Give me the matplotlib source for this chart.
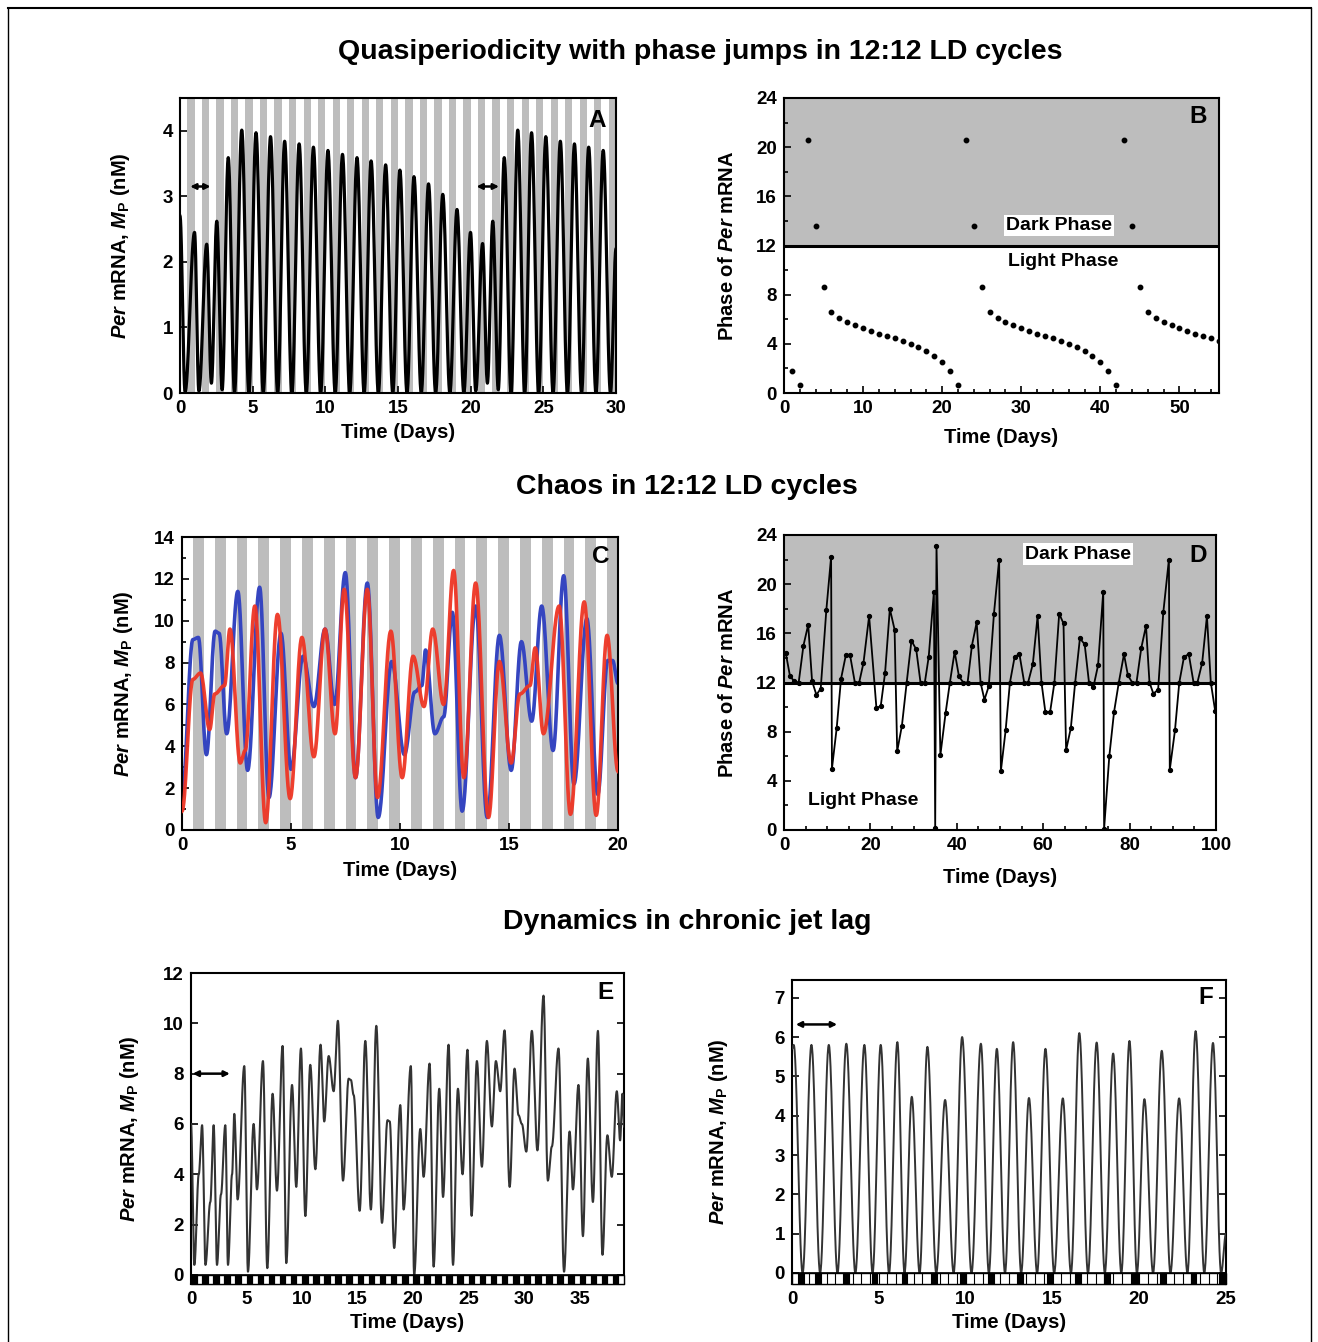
import numpy as np
import matplotlib
matplotlib.use("Agg")
import matplotlib.pyplot as plt
from matplotlib.patches import Rectangle
from matplotlib.lines import Line2D
from matplotlib.ticker import MultipleLocator

plt.rcParams['font.family'] = ['Liberation Sans', 'DejaVu Sans']
plt.rcParams['font.weight'] = 'bold'
plt.rcParams['axes.labelweight'] = 'bold'
plt.rcParams['mathtext.fontset'] = 'custom'
plt.rcParams['mathtext.it'] = 'Liberation Sans:italic:bold'
plt.rcParams['mathtext.rm'] = 'Liberation Sans:bold'
plt.rcParams['mathtext.bf'] = 'Liberation Sans:bold'

# ---------------- data ----------------
# Panel A: extrema of Per mRNA (time in days, nM)
A_t = [0.0, 0.35, 1.0, 1.3, 1.84, 2.16, 2.53, 2.9, 3.32, 3.75, 4.25, 4.74, 5.23, 5.73, 6.23,
       6.72, 7.2, 7.7, 8.2, 8.69, 9.18, 9.68, 10.18, 10.68, 11.18, 11.68, 12.18, 12.67,
       13.15, 13.65, 14.15, 14.64, 15.13, 15.62, 16.1, 16.6, 17.1, 17.59, 18.08, 18.57,
       19.06, 19.53, 19.99, 20.35, 20.82, 21.15, 21.52, 21.9, 22.31, 22.78, 23.24, 23.72,
       24.19, 24.68, 25.17, 25.67, 26.17, 26.66, 27.14, 27.63, 28.12, 28.62, 29.12, 29.62, 30.0]
A_y = [2.7, 0.02, 2.45, 0.03, 2.27, 0.15, 2.62, 0.05, 3.59, 0.0, 4.01, 0.0, 3.97, 0.0, 3.91,
       0.0, 3.84, 0.0, 3.80, 0.0, 3.75, 0.0, 3.70, 0.0, 3.64, 0.0, 3.59, 0.0,
       3.54, 0.0, 3.48, 0.0, 3.40, 0.0, 3.30, 0.0, 3.19, 0.0, 3.03, 0.0,
       2.80, 0.0, 2.45, 0.03, 2.28, 0.15, 2.62, 0.05, 3.59, 0.0, 4.01, 0.0,
       3.97, 0.0, 3.91, 0.0, 3.84, 0.0, 3.80, 0.0, 3.75, 0.0, 3.70, 0.0, 2.2]

# Panel B: daily phase of Per mRNA peak (h)
B_day = list(range(1, 56))
B_phase = [1.8, 0.68, 20.6, 13.6, 8.63, 6.57, 6.11, 5.8, 5.5, 5.25, 5.06, 4.84, 4.65, 4.46, 4.25,
           3.98, 3.73, 3.41, 3.03, 2.49, 1.81, 0.68, 20.6, 13.6, 8.63, 6.57, 6.11, 5.8, 5.5, 5.25,
           5.06, 4.84, 4.65, 4.46, 4.25, 3.98, 3.73, 3.41, 3.03, 2.49, 1.81, 0.68, 20.6, 13.6, 8.63,
           6.57, 6.11, 5.8, 5.5, 5.25, 5.06, 4.84, 4.65, 4.46, 4.25]

# Panel C: extrema of two chaotic trajectories
C_blue_t = [0.0, 0.5, 0.75, 1.12, 1.52, 1.7, 2.05, 2.56, 3.01, 3.56, 3.99, 4.54, 5.0, 5.55, 6.05,
            6.56, 7.0, 7.49, 7.96, 8.5, 9.0, 9.62, 10.2, 10.68, 11.0, 11.17, 11.6, 12.0, 12.4,
            12.85, 13.47, 14.0, 14.56, 15.1, 15.57, 16.04, 16.5, 17.02, 17.51, 17.98, 18.57,
            19.07, 19.53, 19.75, 20.0]
C_blue_y = [1.6, 9.1, 9.2, 3.6, 9.5, 9.4, 4.6, 11.4, 2.85, 11.6, 1.55, 9.4, 2.9, 8.3, 5.9,
            9.6, 6.0, 12.3, 2.5, 11.8, 0.6, 8.05, 3.6, 6.6, 6.9, 8.6, 4.6, 5.4, 10.4,
            0.9, 10.7, 0.6, 9.3, 2.85, 9.0, 5.2, 10.7, 3.8, 12.15, 2.2, 10.1,
            1.7, 8.1, 8.1, 7.0]
C_red_t = [0.0, 0.5, 0.85, 1.27, 1.5, 1.95, 2.2, 2.67, 2.9, 3.34, 3.84, 4.38, 4.96, 5.5, 6.05,
           6.56, 7.02, 7.44, 7.96, 8.5, 8.97, 9.58, 10.1, 10.6, 11.1, 11.5, 12.0, 12.46, 12.93,
           13.47, 14.06, 14.56, 15.1, 15.5, 15.96, 16.2, 16.58, 17.3, 17.82, 18.45, 19.0, 19.5, 20.0]
C_red_y = [0.9, 7.2, 7.5, 4.8, 6.5, 6.9, 9.6, 3.2, 3.8, 10.7, 0.35, 10.3, 1.5, 9.2, 3.5,
           9.6, 4.6, 11.5, 2.5, 11.5, 1.55, 9.5, 2.5, 8.3, 5.9, 9.6, 6.0, 12.4, 2.5,
           11.8, 0.6, 8.05, 3.2, 6.5, 6.9, 8.7, 4.6, 10.7, 0.75, 10.9, 0.7, 9.3, 2.8]

# Panel D: phase of Per mRNA peak (h) vs days
D_day = [0.4, 1.4, 2.4, 3.4, 4.5, 5.6, 6.5, 7.5, 8.5, 9.8, 10.9, 11.1, 12.2, 13.2, 14.3, 15.3,
         16.4, 17.4, 18.4, 19.7, 21.4, 22.4, 23.4, 24.5, 25.6, 26.2, 27.3, 28.4, 29.5, 30.6,
         31.6, 32.6, 33.5, 34.7, 35.0, 35.3, 36.2, 37.4, 38.4, 39.5, 40.5, 41.5, 42.5, 43.5,
         44.6, 45.5, 46.4, 47.4, 48.6, 49.8, 50.2, 51.3, 52.3, 53.4, 54.5, 55.6, 56.5, 57.6,
         58.7, 59.6, 60.5, 61.6, 62.6, 63.7, 64.7, 65.3, 66.4, 67.4, 68.5, 69.6, 70.6, 71.6,
         72.7, 73.9, 74.1, 75.3, 76.4, 77.5, 78.7, 79.6, 80.6, 81.6, 82.7, 83.8, 84.6, 85.5,
         86.6, 87.8, 89.1, 89.3, 90.5, 91.5, 92.6, 93.7, 94.8, 95.7, 96.8, 97.9, 98.8, 99.8]
D_phase = [14.4, 12.5, 12.1, 12.0, 15.0, 16.7, 12.1, 11.0, 11.5, 17.9, 22.2, 5.0, 8.3, 12.3, 14.2, 14.2,
           12.0, 12.0, 13.6, 17.4, 9.9, 10.1, 12.8, 18.0, 16.3, 6.4, 8.5, 12.0, 15.4, 14.7,
           12.0, 12.0, 14.1, 19.4, 0.2, 23.1, 6.1, 9.5, 12.0, 14.5, 12.5, 12.0, 12.0, 15.0,
           16.9, 12.0, 10.6, 11.7, 17.6, 22.0, 4.8, 8.1, 12.0, 14.1, 14.3, 12.0, 12.0, 13.5,
           17.4, 12.0, 9.6, 9.6, 12.0, 17.6, 16.8, 6.5, 8.3, 12.0, 15.6, 15.1, 12.0, 11.6,
           13.4, 19.4, 0.1, 6.0, 9.6, 12.0, 14.3, 12.6, 12.0, 12.0, 14.8, 16.6, 12.0, 11.1,
           11.4, 17.7, 22.0, 4.9, 8.1, 12.0, 14.1, 14.3, 12.0, 12.0, 13.6, 17.4, 12.0, 9.7]

# Panel E: extrema under chronic jet lag
E_t = [0.0, 0.3, 0.7, 1.0, 1.3, 1.74, 2.04, 2.34, 2.7, 3.09, 3.33, 3.7, 3.9, 4.2, 4.8, 5.13,
       5.64, 5.94, 6.48, 6.87, 7.35, 7.74, 8.25, 8.58, 9.1, 9.48, 9.9, 10.3, 10.74, 11.2, 11.67,
       12.0, 12.4, 12.85, 13.23, 13.69, 14.2, 14.4, 14.65, 15.19, 15.7, 16.2, 16.69, 17.2, 17.7,
       17.9, 18.3, 18.85, 19.15, 19.8, 20.1, 20.65, 20.95, 21.49, 21.85, 22.36, 22.7, 23.2, 23.6,
       24.04, 24.46, 24.9, 25.27, 25.75, 26.2, 26.65, 27.1, 27.46, 27.85, 28.24, 28.7, 29.14,
       29.5, 29.8, 30.2, 30.7, 31.2, 31.75, 32.14, 32.5, 33.1, 33.6, 34.1, 34.4, 34.9, 35.3,
       35.74, 36.2, 36.65, 37.06, 37.5, 37.9, 38.35, 38.65, 38.86, 39.0]
E_y = [6.0, 0.4, 4.0, 5.95, 0.4, 2.9, 5.95, 0.4, 3.2, 5.95, 0.4, 4.0, 6.4, 3.0, 8.3, 0.13,
       6.0, 3.4, 8.5, 0.27, 7.2, 3.35, 9.1, 0.47, 7.55, 3.5, 9.0, 2.34, 8.35, 4.2, 9.15,
       6.1, 8.7, 7.3, 10.1, 3.75, 7.8, 7.75, 7.15, 2.55, 9.3, 2.6, 9.9, 2.07, 6.15,
       6.1, 1.07, 6.75, 2.6, 8.3, 0.0, 5.8, 3.9, 8.4, 0.33, 7.4, 3.1, 9.15, 0.4,
       7.4, 4.0, 8.95, 2.35, 8.5, 4.3, 9.3, 5.9, 8.5, 7.3, 9.72, 3.5, 8.2,
       6.35, 6.0, 4.9, 9.7, 4.95, 11.1, 3.75, 5.1, 9.0, 0.13, 5.7, 3.4, 7.55, 1.54,
       8.6, 2.9, 9.7, 0.8, 5.55, 3.9, 7.3, 5.35, 7.2, 5.9]

# Panel F: extrema under chronic jet lag
F_t = [0.0, 0.1, 0.61, 1.12, 1.62, 2.12, 2.62, 3.13, 3.65, 4.17, 4.64, 5.11, 5.59, 6.07, 6.48,
       6.9, 7.35, 7.8, 8.31, 8.82, 9.31, 9.8, 10.34, 10.88, 11.34, 11.8, 12.27, 12.74, 13.2,
       13.65, 14.12, 14.6, 15.1, 15.6, 16.07, 16.55, 17.05, 17.55, 18.02, 18.5, 18.97, 19.44,
       19.87, 20.3, 20.8, 21.3, 21.8, 22.3, 22.78, 23.25, 23.75, 24.25, 24.72, 25.0]
F_y = [5.7, 5.8, 0.0, 5.8, 0.0, 5.8, 0.0, 5.83, 0.0, 5.8, 0.0, 5.8, 0.0, 5.87, 0.0,
       4.48, 0.0, 5.75, 0.0, 4.4, 0.0, 6.0, 0.0, 5.83, 0.0, 5.7, 0.0, 5.87, 0.0,
       4.45, 0.0, 5.7, 0.0, 4.44, 0.0, 6.1, 0.0, 5.86, 0.0, 5.58, 0.0, 5.9,
       0.0, 4.42, 0.0, 5.65, 0.0, 4.44, 0.0, 6.15, 0.0, 5.85, 0.0, 1.0]

# light/dark schedules
E_dark_start = [float(k) for k in range(39)]
E_dark_len = 0.5
F_dark_start = [0.37, 1.33, 2.96, 4.6, 6.33, 8.06, 9.7, 11.3, 12.96, 14.7, 16.3, 18.0, 19.6,
                21.2, 22.96, 24.6]
F_dark_len = 0.32

# ---------------- helpers ----------------
W, H = 1318, 1342
fig = plt.figure(figsize=(W / 100, H / 100), dpi=100)


def px_axes(l, r, t, b):
    return fig.add_axes([l / W, 1 - b / H, (r - l) / W, (b - t) / H])


def smooth(tk, yk, n=30):
    ts, ys = [], []
    for i in range(len(tk) - 1):
        s = np.linspace(0, 1, n, endpoint=False)
        w = (1 - np.cos(np.pi * s)) / 2
        ts.append(tk[i] + (tk[i + 1] - tk[i]) * s)
        ys.append(yk[i] + (yk[i + 1] - yk[i]) * w)
    ts.append([tk[-1]])
    ys.append([yk[-1]])
    return np.concatenate(ts), np.concatenate(ys)


GRAY = '#bdbdbd'
TICK_FS = 13.5
LAB_FS = 14.5
LET_FS = 17.5
TITLE_FS = 20.5


def style(ax, right_ticks=True):
    ax.tick_params(direction='in', which='both', top=False, right=right_ticks,
                   labelsize=TICK_FS, width=1.2, pad=5)
    ax.tick_params(which='major', length=5)
    ax.tick_params(which='minor', length=3)
    for sp in ax.spines.values():
        sp.set_linewidth(1.5)


ylab_mp = r'$\mathit{Per}$ mRNA, $\mathit{M}_\mathrm{P}$ (nM)'
ylab_ph = r'Phase of $\mathit{Per}$ mRNA'
ARROW = dict(arrowstyle='<|-|>', lw=1.8, color='black', mutation_scale=8, shrinkA=0, shrinkB=0)

# ---------------- Panel A ----------------
axA = px_axes(180, 616, 98, 393)
for k in range(30):
    axA.axvspan(k + 0.5, k + 1.0, color=GRAY, lw=0, zorder=0)
tA, yA = smooth(A_t, A_y)
axA.plot(tA, yA, color='black', lw=2.3, zorder=2)
axA.set_xlim(0, 30)
axA.set_ylim(0, 4.5)
axA.set_xticks([0, 5, 10, 15, 20, 25, 30])
axA.set_yticks([0, 1, 2, 3, 4])
style(axA, right_ticks=False)
axA.set_xlabel('Time (Days)', fontsize=LAB_FS, labelpad=4)
axA.set_ylabel(ylab_mp, fontsize=LAB_FS, labelpad=22)
axA.text(0.956, 0.925, 'A', transform=axA.transAxes, fontsize=LET_FS, fontweight='bold',
         ha='center', va='center')
for x0, x1 in [(0.7, 2.1), (20.4, 21.95)]:
    axA.annotate('', xy=(x1, 3.15), xytext=(x0, 3.15), arrowprops=ARROW)

# ---------------- Panel B ----------------
axB = px_axes(784, 1219, 98, 393)
axB.axhspan(12, 24, color=GRAY, lw=0, zorder=0)
axB.axhline(12, color='black', lw=2.2, zorder=1)
axB.plot(B_day, B_phase, 'o', color='black', ms=3.2, zorder=3)
axB.set_xlim(0, 55)
axB.set_ylim(0, 24)
axB.set_xticks([0, 10, 20, 30, 40, 50])
axB.set_yticks([0, 4, 8, 12, 16, 20, 24])
axB.xaxis.set_minor_locator(MultipleLocator(2))
axB.yaxis.set_minor_locator(MultipleLocator(2))
style(axB, right_ticks=False)
axB.set_xlabel('Time (Days)', fontsize=LAB_FS, labelpad=8)
axB.set_ylabel(ylab_ph, fontsize=LAB_FS, labelpad=14)
axB.text(0.952, 0.936, 'B', transform=axB.transAxes, fontsize=LET_FS, fontweight='bold',
         ha='center', va='center')
axB.text(34.8, 13.6, 'Dark Phase', fontsize=14, fontweight='bold', ha='center', va='center',
         bbox=dict(facecolor='white', edgecolor='none', pad=1.5), zorder=4)
axB.text(35.3, 10.7, 'Light Phase', fontsize=14, fontweight='bold', ha='center', va='center')

# ---------------- Panel C ----------------
axC = px_axes(182, 618, 537, 830)
for k in range(20):
    axC.axvspan(k + 0.5, k + 1.0, color=GRAY, lw=0, zorder=0)
tb, yb = smooth(C_blue_t, C_blue_y)
tr, yr = smooth(C_red_t, C_red_y)
axC.plot(tb, yb, color='#3545c0', lw=2.6, zorder=2)
axC.plot(tr, yr, color='#ee3524', lw=2.6, zorder=3, alpha=0.95)
axC.set_xlim(0, 20)
axC.set_ylim(0, 14)
axC.set_xticks([0, 5, 10, 15, 20])
axC.set_yticks(range(0, 15, 2))
axC.yaxis.set_minor_locator(MultipleLocator(1))
style(axC, right_ticks=False)
axC.set_xlabel('Time (Days)', fontsize=LAB_FS, labelpad=5)
axC.set_ylabel(ylab_mp, fontsize=LAB_FS, labelpad=14)
axC.text(0.961, 0.932, 'C', transform=axC.transAxes, fontsize=LET_FS, fontweight='bold',
         ha='center', va='center')

# ---------------- Panel D ----------------
axD = px_axes(784, 1216, 535, 830)
axD.axhspan(12, 24, color=GRAY, lw=0, zorder=0)
axD.axhline(12, color='black', lw=2.2, zorder=1)
axD.plot(D_day, D_phase, '-o', color='black', lw=1.3, ms=2.8, zorder=3)
axD.set_xlim(0, 100)
axD.set_ylim(0, 24)
axD.set_xticks([0, 20, 40, 60, 80, 100])
axD.set_yticks([0, 4, 8, 12, 16, 20, 24])
axD.xaxis.set_minor_locator(MultipleLocator(5))
axD.yaxis.set_minor_locator(MultipleLocator(2))
style(axD, right_ticks=False)
axD.set_xlabel('Time (Days)', fontsize=LAB_FS, labelpad=10)
axD.set_ylabel(ylab_ph, fontsize=LAB_FS, labelpad=14)
axD.text(0.958, 0.932, 'D', transform=axD.transAxes, fontsize=LET_FS, fontweight='bold',
         ha='center', va='center')
axD.text(68, 22.45, 'Dark Phase', fontsize=14, fontweight='bold', ha='center', va='center',
         bbox=dict(facecolor='white', edgecolor='none', pad=1.5), zorder=4)
axD.text(18.3, 2.44, 'Light Phase', fontsize=14, fontweight='bold', ha='center', va='center')


# ---------------- Panel E ----------------
def ld_bar(ax, xmax, bottom, starts, dlen, box=0.5):
    # white strip with box dividers, then dark boxes
    ax.add_patch(Rectangle((0, bottom), xmax, -bottom, facecolor='white', edgecolor='black',
                           lw=1.0, zorder=4, clip_on=False))
    x = box
    while x < xmax:
        ax.add_line(Line2D([x, x], [bottom, 0], color='black', lw=0.8, zorder=5))
        x += box
    for s in starts:
        ax.add_patch(Rectangle((s, bottom), min(dlen, xmax - s), -bottom, facecolor='black',
                               edgecolor='black', lw=0.8, zorder=6))
    ax.axhline(0, color='black', lw=1.2, zorder=6)


axE = px_axes(191, 624, 973, 1284)
tE, yE = smooth(E_t, E_y)
axE.plot(tE, yE, color='#333333', lw=1.5, zorder=3)
axE.set_xlim(0, 39)
axE.set_ylim(-0.36, 12)
ld_bar(axE, 39, -0.36, E_dark_start, E_dark_len)
axE.set_xticks([0, 5, 10, 15, 20, 25, 30, 35])
axE.set_yticks([0, 2, 4, 6, 8, 10, 12])
axE.xaxis.set_minor_locator(MultipleLocator(1))
style(axE)
axE.tick_params(axis='x', which='minor', length=3)
axE.set_xlabel('Time (Days)', fontsize=LAB_FS, labelpad=4)
axE.set_ylabel(ylab_mp, fontsize=LAB_FS, labelpad=16)
axE.text(0.958, 0.936, 'E', transform=axE.transAxes, fontsize=LET_FS, fontweight='bold',
         ha='center', va='center')
axE.annotate('', xy=(3.5, 8.0), xytext=(0.15, 8.0), arrowprops=ARROW)

# ---------------- Panel F ----------------
axF = px_axes(792, 1226, 980, 1284)
tF, yF = smooth(F_t, F_y)
axF.plot(tF, yF, color='#333333', lw=1.4, zorder=3)
axF.set_xlim(0, 25)
axF.set_ylim(-0.28, 7.45)
ld_bar(axF, 25, -0.28, F_dark_start, F_dark_len)
axF.set_xticks([0, 5, 10, 15, 20, 25])
axF.set_yticks(range(0, 8))
style(axF)
axF.set_xlabel('Time (Days)', fontsize=LAB_FS, labelpad=4)
axF.set_ylabel(ylab_mp, fontsize=LAB_FS, labelpad=32)
axF.text(0.954, 0.941, 'F', transform=axF.transAxes, fontsize=LET_FS, fontweight='bold',
         ha='center', va='center')
axF.annotate('', xy=(2.6, 6.32), xytext=(0.22, 6.32), arrowprops=ARROW)

# ---------------- titles & frame ----------------
fig.text(700 / W, 1 - 52 / H, 'Quasiperiodicity with phase jumps in 12:12 LD cycles',
         fontsize=TITLE_FS, fontweight='bold', ha='center', va='center')
fig.text(687 / W, 1 - 487 / H, 'Chaos in 12:12 LD cycles',
         fontsize=TITLE_FS, fontweight='bold', ha='center', va='center')
fig.text(687 / W, 1 - 922 / H, 'Dynamics in chronic jet lag',
         fontsize=TITLE_FS, fontweight='bold', ha='center', va='center')

fig.add_artist(Line2D([8 / W, 1311 / W], [1 - 8 / H, 1 - 8 / H], color='black', lw=1.5))
fig.add_artist(Line2D([8 / W, 8 / W], [0, 1 - 8 / H], color='black', lw=1.0))
fig.add_artist(Line2D([1311 / W, 1311 / W], [0, 1 - 8 / H], color='black', lw=1.0))

fig.savefig('out.png', dpi=100, facecolor='white')
